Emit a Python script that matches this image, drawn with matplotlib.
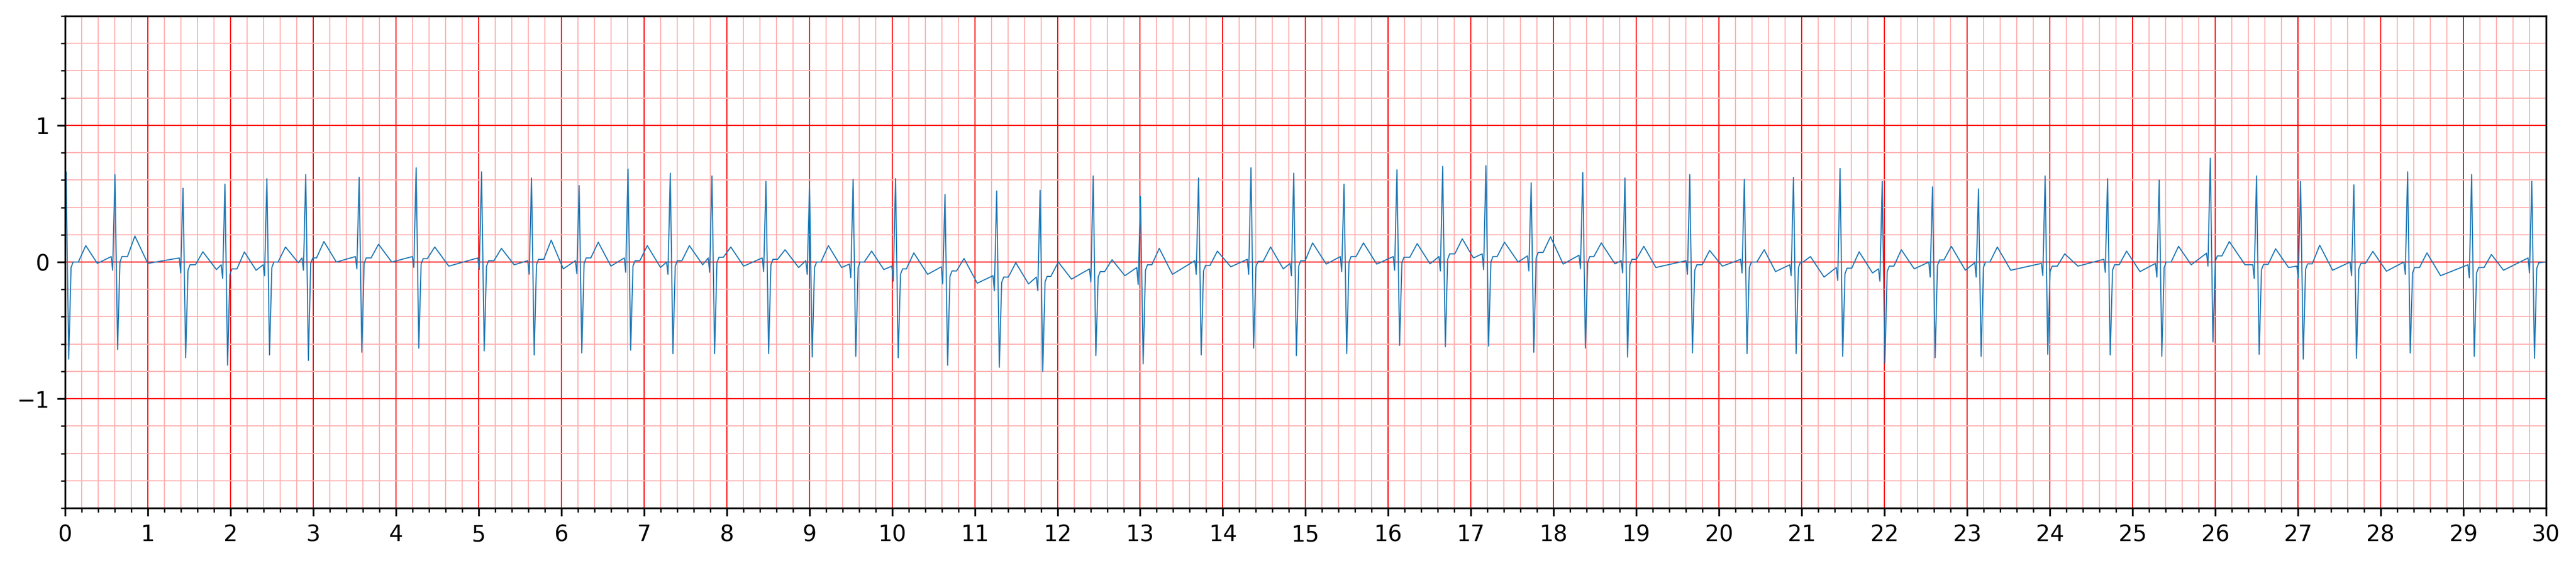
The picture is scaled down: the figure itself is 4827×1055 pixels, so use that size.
"""Single-lead ECG strip on ECG paper grid (30 s)."""
import numpy as np
import matplotlib
matplotlib.use("Agg")
import matplotlib.pyplot as plt
from matplotlib.ticker import AutoMinorLocator

# ---- values (seconds / mV) ----
start_v = 0.6
end_t, end_v = 30.0, 0.0

r_times = [0.012, 0.603, 1.426, 1.933, 2.44, 2.91, 3.556, 4.245, 5.036, 5.64,
           6.216, 6.807, 7.318, 7.822, 8.475, 9.002, 9.529, 10.042, 10.64, 11.265,
           11.79, 12.432, 13.004, 13.706, 14.34, 14.857, 15.465, 16.105, 16.658, 17.181,
           17.728, 18.352, 18.862, 19.646, 20.306, 20.90, 21.463, 21.973, 22.581, 23.137,
           23.943, 24.698, 25.322, 25.94, 26.499, 27.032, 27.676, 28.326, 29.10, 29.828]
r_amps = [0.66, 0.64, 0.54, 0.57, 0.61, 0.64, 0.62, 0.69, 0.66, 0.615,
          0.56, 0.68, 0.65, 0.63, 0.59, 0.56, 0.605, 0.61, 0.495, 0.52,
          0.525, 0.63, 0.48, 0.615, 0.69, 0.65, 0.57, 0.675, 0.70, 0.705,
          0.58, 0.655, 0.615, 0.64, 0.605, 0.62, 0.685, 0.59, 0.55, 0.535,
          0.63, 0.61, 0.60, 0.76, 0.63, 0.59, 0.565, 0.66, 0.64, 0.59]
s_amps = [-0.71, -0.64, -0.70, -0.755, -0.68, -0.72, -0.66, -0.63, -0.65, -0.68,
          -0.665, -0.645, -0.67, -0.67, -0.67, -0.695, -0.69, -0.70, -0.755, -0.77,
          -0.80, -0.685, -0.745, -0.68, -0.63, -0.685, -0.67, -0.61, -0.62, -0.615,
          -0.66, -0.63, -0.695, -0.665, -0.67, -0.67, -0.69, -0.74, -0.70, -0.69,
          -0.675, -0.68, -0.69, -0.585, -0.675, -0.71, -0.705, -0.665, -0.69, -0.705]
q_amps = [None, -0.06, -0.08, -0.12, -0.10, -0.06, -0.05, -0.04, -0.055, -0.09,
          -0.085, -0.075, -0.09, -0.075, -0.07, -0.09, -0.115, -0.14, -0.16, -0.21,
          -0.21, -0.145, -0.165, -0.09, -0.09, -0.10, -0.07, -0.06, -0.065, -0.055,
          -0.065, -0.05, -0.08, -0.09, -0.08, -0.10, -0.135, -0.14, -0.11, -0.11,
          -0.10, -0.075, -0.11, -0.03, -0.12, -0.12, -0.10, -0.09, -0.115, -0.08]
pre_amps = [None, 0.04, 0.03, -0.02, -0.02, 0.03, 0.04, 0.04, 0.03, 0.01,
            0.01, 0.03, 0.0, 0.03, 0.03, 0.01, -0.015, -0.03, -0.035, -0.10,
            -0.11, -0.05, -0.04, 0.01, 0.02, -0.01, 0.04, 0.04, 0.04, 0.06,
            0.045, 0.05, 0.01, 0.01, 0.02, -0.02, -0.04, -0.05, 0.0, -0.005,
            -0.01, 0.02, -0.01, 0.065, -0.02, -0.03, 0.0, 0.0, -0.02, 0.03]
j_amps = [0.0, 0.04, -0.02, -0.05, 0.0, 0.03, 0.03, 0.025, 0.01, 0.02,
          0.03, 0.01, 0.01, 0.035, 0.02, 0.0, 0.0, -0.05, -0.065, -0.11,
          -0.105, -0.07, -0.02, -0.025, 0.005, 0.01, 0.04, 0.035, 0.06, 0.04,
          0.07, 0.04, 0.02, -0.02, 0.0, 0.0, -0.045, -0.03, 0.015, 0.0,
          -0.03, -0.02, 0.0, 0.045, -0.017, -0.013, -0.01, -0.04, -0.04, -0.005]
t_times = [0.25, 0.844, 1.666, 2.168, 2.665, 3.13, 3.79, 4.47, 5.276, 5.878,
           6.447, 7.04, 7.549, 8.05, 8.706, 9.23, 9.753, 10.263, 10.87, 11.496,
           12.01, 12.66, 13.231, 13.934, 14.577, 15.085, 15.70, 16.35, 16.895, 17.406,
           17.962, 18.576, 19.09, 19.886, 20.546, 21.105, 21.694, 22.204, 22.809, 23.365,
           24.18, 24.928, 25.556, 26.17, 26.73, 27.263, 27.906, 28.56, 29.34]
t_amps = [0.12, 0.19, 0.075, 0.074, 0.11, 0.15, 0.13, 0.11, 0.10, 0.16,
          0.145, 0.12, 0.12, 0.11, 0.09, 0.12, 0.08, 0.067, 0.026, -0.005,
          0.0, 0.017, 0.10, 0.08, 0.11, 0.14, 0.14, 0.135, 0.17, 0.145,
          0.185, 0.14, 0.115, 0.085, 0.09, 0.04, 0.075, 0.09, 0.115, 0.11,
          0.06, 0.08, 0.115, 0.15, 0.097, 0.123, 0.078, 0.067, 0.055]
trough_times = [0.39, 1.00, 1.83, 2.31, 2.82, 3.28, 3.95, 4.64, 5.43, 6.024,
                6.60, 7.20, 7.71, 8.205, 8.87, 9.39, 9.90, 10.43, 11.03, 11.65,
                12.17, 12.815, 13.39, 14.096, 14.73, 15.25, 15.86, 16.505, 17.03, 17.57,
                18.115, 18.74, 19.236, 20.04, 20.683, 21.27, 21.856, 22.36, 22.978, 23.527,
                24.34, 25.09, 25.709, 26.36, 26.886, 27.419, 28.07, 28.725, 29.486]
trough_amps = [-0.01, -0.01, -0.055, -0.06, -0.005, 0.0, 0.0, -0.03, -0.02, -0.05,
               -0.03, -0.04, -0.02, -0.03, -0.04, -0.04, -0.055, -0.09, -0.155, -0.16,
               -0.125, -0.10, -0.09, -0.035, -0.05, -0.015, -0.015, -0.013, 0.03, 0.0,
               -0.015, -0.013, -0.04, -0.03, -0.07, -0.11, -0.08, -0.05, -0.06, -0.06,
               -0.03, -0.07, -0.02, -0.02, -0.04, -0.06, -0.067, -0.10, -0.06]


def build_trace():
    """Join the read landmarks of every beat into one polyline."""
    ts, vs = [0.0], [start_v]
    for i, r in enumerate(r_times):
        if i > 0:
            ts += [r - 0.045, r - 0.028]
            vs += [pre_amps[i], q_amps[i]]
        ts += [r, r + 0.032, r + 0.06, r + 0.085]
        vs += [r_amps[i], s_amps[i], j_amps[i] - 0.04, j_amps[i]]
        if i < len(t_times):
            ts += [t_times[i] - 0.09, t_times[i], trough_times[i]]
            vs += [j_amps[i], t_amps[i], trough_amps[i]]
    ts.append(end_t)
    vs.append(end_v)
    return np.array(ts), np.array(vs)


def main():
    t, v = build_trace()

    fig = plt.figure(figsize=(16.09, 3.5167))
    ax = fig.add_axes([0.02527, 0.0976, 0.9631, 0.8739])

    ax.set_xticks(np.arange(0, 31, 1))
    ax.set_yticks([-1, 0, 1])
    ax.minorticks_on()
    ax.xaxis.set_minor_locator(AutoMinorLocator(5))
    ax.yaxis.set_minor_locator(AutoMinorLocator(5))
    ax.set_ylim(-1.8, 1.8)
    ax.set_xlim(0, 30)

    ax.grid(which="major", linestyle="-", linewidth=0.5, color="red")
    ax.grid(which="minor", linestyle="-", linewidth=0.5, color=(1, 0.7, 0.7))

    ax.plot(t, v, linewidth=0.5)

    fig.savefig("out.png", dpi=300)
    plt.close(fig)


if __name__ == "__main__":
    main()
